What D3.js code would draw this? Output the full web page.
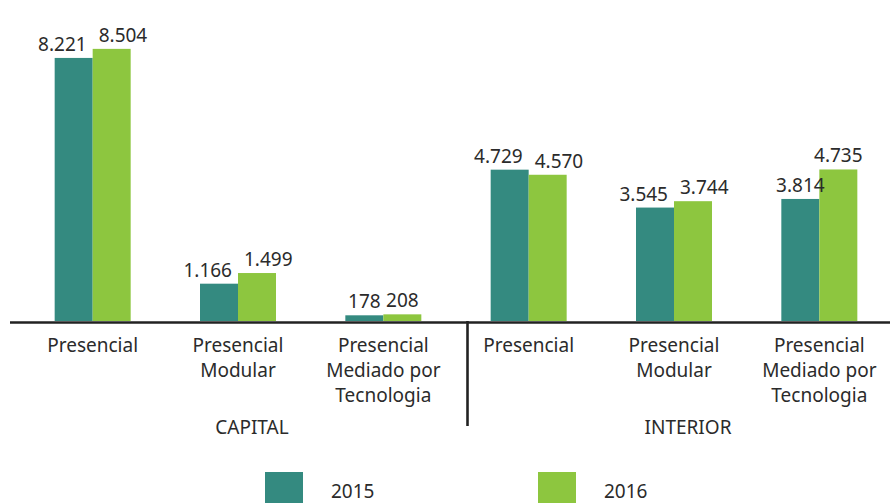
<!DOCTYPE html>
<html>
<head>
<meta charset="utf-8">
<script src="https://cdn.jsdelivr.net/npm/d3@7"></script>
<style>
  body { margin: 0; background: white; }
  text { font-family: "Noto Sans", sans-serif; fill: #2b2b2b; }
</style>
</head>
<body>
<script>
// dados
const regions = ["CAPITAL", "CAPITAL", "CAPITAL", "INTERIOR", "INTERIOR", "INTERIOR"];
const categories = [
    ["Presencial"],
    ["Presencial", "Modular"],
    ["Presencial", "Mediado por", "Tecnologia"],
    ["Presencial"],
    ["Presencial", "Modular"],
    ["Presencial", "Mediado por", "Tecnologia"]
];
const years = ["2015", "2016"];
const values2015 = [8221, 1166, 178, 4729, 3545, 3814];
const values2016 = [8504, 1499, 208, 4570, 3744, 4735];
const colors = ["#348a80", "#8dc63f"];

const width = 890, height = 503;
const svg = d3.select("body").append("svg")
    .attr("width", width).attr("height", height);

const keys = regions.map((r, i) => r + "|" + i);
const rows = keys.map((k, i) => ({key: k, region: regions[i], lines: categories[i],
    vals: [values2015[i], values2016[i]]}));

const baseY = 321;
const x = d3.scaleBand().domain(keys).range([20, 892]).padding(0);
const barW = 38;
const xSub = d3.scaleBand().domain(years).range([0, barW * 2]);
const y = d3.scaleLinear().domain([0, 10000]).range([baseY, 1]);

const fmt = d3.formatLocale({decimal: ",", thousands: ".", grouping: [3], currency: ["R$", ""]}).format(",d");

const groupX = d => x(d.key) + (x.bandwidth() - barW * 2) / 2;

// barras
const g = svg.selectAll("g.grp").data(rows).join("g")
    .attr("class", "grp")
    .attr("transform", d => `translate(${groupX(d)},0)`);

g.selectAll("rect").data(d => d.vals.map((v, j) => ({year: years[j], v: v, j: j})))
    .join("rect")
    .attr("x", d => xSub(d.year))
    .attr("y", d => y(d.v))
    .attr("width", xSub.bandwidth())
    .attr("height", d => baseY - y(d.v))
    .attr("fill", (d, j) => colors[j]);

// rótulos de valor
g.each(function (d) {
    const grp = d3.select(this);
    const labels = d.vals.map((v, j) => grp.append("text")
        .attr("text-anchor", "middle")
        .attr("font-size", 19)
        .attr("y", y(v) - 7)
        .text(fmt(v)));
    const close = Math.abs(y(d.vals[0]) - y(d.vals[1])) < 20;
    labels.forEach((t, j) => {
        const w = t.node().getComputedTextLength();
        let shift = 0;
        if (close && w > barW) shift = (w - barW) / 2 + 6;
        const cx = xSub(years[j]) + xSub.bandwidth() / 2 + (j === 0 ? -shift : shift);
        t.attr("x", cx);
    });
});

// eixo
svg.append("line")
    .attr("x1", 10).attr("x2", width)
    .attr("y1", baseY + 1.5).attr("y2", baseY + 1.5)
    .attr("stroke", "#222").attr("stroke-width", 2.6);

// separador entre CAPITAL e INTERIOR
const sepX = x(keys[3]) + 11.5;
svg.append("line")
    .attr("x1", sepX).attr("x2", sepX)
    .attr("y1", baseY).attr("y2", 426)
    .attr("stroke", "#222").attr("stroke-width", 2.6);

// rótulos das categorias
svg.selectAll("text.cat").data(rows).join("text")
    .attr("class", "cat")
    .attr("text-anchor", "middle")
    .attr("font-size", 19)
    .attr("x", d => x(d.key) + x.bandwidth() / 2)
    .attr("y", 352)
    .selectAll("tspan").data(d => d.lines).join("tspan")
    .attr("x", function () { return d3.select(this.parentNode).attr("x"); })
    .attr("dy", (d, i) => i === 0 ? 0 : 25)
    .text(d => d);

// rótulos das regiões
const regionNames = Array.from(new Set(regions));
svg.selectAll("text.region").data(regionNames).join("text")
    .attr("class", "region")
    .attr("text-anchor", "middle")
    .attr("font-size", 19)
    .attr("x", r => {
        const ks = keys.filter((k, i) => regions[i] === r);
        return (x(ks[0]) + x(ks[ks.length - 1]) + x.bandwidth()) / 2 + 14;
    })
    .attr("y", 434)
    .text(r => r);

// legenda
const legendX = d3.scaleOrdinal().domain(years).range([265, 538]);
const lg = svg.selectAll("g.legend").data(years).join("g")
    .attr("class", "legend")
    .attr("transform", d => `translate(${legendX(d)},472)`);
lg.append("rect").attr("width", 38).attr("height", 38)
    .attr("fill", (d, i) => colors[i]);
lg.append("text").attr("x", 66).attr("y", 26)
    .attr("font-size", 19)
    .text(d => d);
</script>
</body>
</html>
